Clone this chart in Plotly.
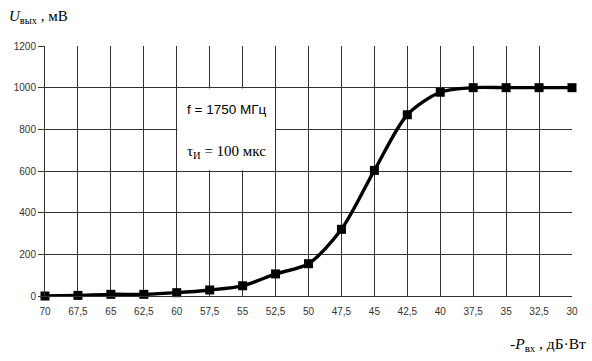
import plotly.graph_objects as go

# Data
p_in = [70, 67.5, 65, 62.5, 60, 57.5, 55, 52.5, 50, 47.5, 45, 42.5, 40, 37.5, 35, 32.5, 30]
u_out = [0, 3, 8, 8, 16, 29, 49, 106, 155, 320, 603, 870, 978, 1000, 1000, 1000, 1000]
x_tickvals = [70, 67.5, 65, 62.5, 60, 57.5, 55, 52.5, 50, 47.5, 45, 42.5, 40, 37.5, 35, 32.5, 30]
x_ticktext = ["70", "67,5", "65", "62,5", "60", "57,5", "55", "52,5", "50", "47,5", "45",
              "42,5", "40", "37,5", "35", "32,5", "30"]
y_tickvals = [0, 200, 400, 600, 800, 1000, 1200]

fig = go.Figure()
fig.add_trace(go.Scatter(
    x=p_in, y=u_out, mode="lines+markers",
    line=dict(color="black", width=3.4, shape="spline", smoothing=0.8),
    marker=dict(symbol="square", size=9, color="black"),
    showlegend=False, cliponaxis=False,
))

grid_col = "#333333"
fig.update_xaxes(
    range=[70, 30], tickvals=x_tickvals, ticktext=x_ticktext,
    showgrid=True, gridcolor=grid_col, gridwidth=1,
    showline=True, linecolor=grid_col, linewidth=1,
    zeroline=False, ticks="", ticklabelstandoff=6,
    tickfont=dict(family="Liberation Sans", size=10, color="#333"),
)
fig.update_yaxes(
    range=[0, 1200], tickvals=y_tickvals,
    showgrid=True, gridcolor=grid_col, gridwidth=1,
    showline=True, linecolor=grid_col, linewidth=1,
    zeroline=False, ticks="outside", ticklen=6, tickcolor=grid_col,
    tickfont=dict(family="Liberation Sans", size=10, color="#333"),
)

# white box with annotation text
fig.add_shape(type="rect", x0=59.95, x1=52.55, y0=604, y1=996, xref="x", yref="y",
              fillcolor="white", line=dict(width=0), layer="above")
fig.add_annotation(x=56.25, y=893, xref="x", yref="y", showarrow=False,
                   text="f = 1750 МГц",
                   font=dict(family="Liberation Sans", size=13.5, color="black"))
fig.add_annotation(x=56.25, y=692, xref="x", yref="y", showarrow=False,
                   text="τ<sub>И</sub> = 100 мкс",
                   font=dict(family="Liberation Serif", size=15, color="black"))

# axis titles
fig.add_annotation(x=0, y=1, xref="paper", yref="paper", showarrow=False,
                   text="<i>U</i><sub>вых</sub> , мВ", xanchor="left", yanchor="middle",
                   xshift=-38, yshift=29,
                   font=dict(family="Liberation Serif", size=15, color="black"))
fig.add_annotation(x=1, y=0, xref="paper", yref="paper", showarrow=False,
                   text="-<i>P</i><sub>вх</sub> , дБ·Вт", xanchor="right", yanchor="middle",
                   xshift=16, yshift=-48,
                   font=dict(family="Liberation Serif", size=15.5, color="black"))

fig.update_layout(
    width=592, height=361,
    margin=dict(l=45, r=20, t=46, b=65),
    plot_bgcolor="white", paper_bgcolor="white",
)
fig.write_html("out.html", config={"displayModeBar": False},
               post_script="document.body.style.margin='0';")
